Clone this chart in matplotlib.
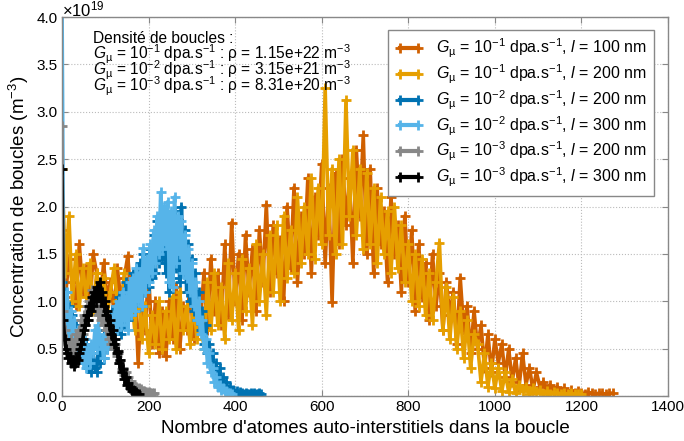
import numpy as np
import matplotlib
matplotlib.use("Agg")
import matplotlib.pyplot as plt
from matplotlib.ticker import MultipleLocator

plt.rcParams['font.family'] = ['Liberation Sans', 'DejaVu Sans']
plt.rcParams['mathtext.fontset'] = 'custom'
plt.rcParams['mathtext.rm'] = 'Liberation Sans'
plt.rcParams['mathtext.it'] = 'Liberation Sans:italic'
plt.rcParams['mathtext.bf'] = 'Liberation Sans:bold'

# ---------------- data (concentration in 1e19 m^-3) ----------------
x_g1_l100 = np.arange(0, 1273, 8)
y_g1_l100 = [
    1.75, 1.05, 1.45, 1.2, 0.95, 1.6, 1.1, 1.35, 0.9, 1.5,
    1.3, 0.95, 1.4, 1.05, 1.2, 0.9, 1.35, 1.0, 1.25, 1.48,
    0.95, 1.2, 0.35, 1.1, 0.7, 1.3, 0.55, 1.0, 0.45, 0.9,
    0.42, 1.0, 0.6, 1.15, 0.5, 0.95, 0.7, 1.2, 0.6, 1.05,
    0.8, 1.3, 0.7, 1.45, 0.9, 1.3, 0.75, 1.6, 0.85, 1.83,
    1.0, 1.5, 0.8, 1.7, 1.1, 1.55, 0.9, 1.75, 1.2, 2.02,
    1.1, 1.8, 1.3, 1.65, 1.0, 2.0, 1.35, 2.2, 1.2, 1.9,
    1.5, 2.3, 1.3, 2.1, 1.7, 2.45, 1.4, 2.2, 0.99, 2.35,
    1.6, 2.5, 1.8, 2.3, 1.4, 2.6, 1.9, 2.75, 1.5, 2.4,
    1.3, 2.2, 1.6, 1.95, 1.2, 2.1, 1.5, 1.8, 1.1, 1.9,
    1.2, 1.75, 0.9, 1.6, 1.05, 1.4, 0.8, 1.5, 0.95, 1.3,
    0.7, 1.2, 0.85, 1.1, 0.55, 1.25, 0.7, 0.95, 0.45, 0.9,
    0.5, 0.75, 0.3, 0.65, 0.25, 0.6, 0.35, 0.55, 0.2, 0.5,
    0.15, 0.4, 0.1, 0.45, 0.12, 0.3, 0.06, 0.25, 0.1, 0.15,
    0.05, 0.12, 0.03, 0.1, 0.04, 0.08, 0.02, 0.06, 0.03, 0.05,
    0.03, 0.02, 0.04, 0.03, 0.02, 0.03, 0.03, 0.02, 0.03, 0.03,
]

x_g1_l200 = np.arange(0, 1201, 8)
y_g1_l200 = [
    2.4, 1.3, 1.9, 1.0, 1.5, 0.95, 1.35, 1.05, 1.4, 0.9,
    1.3, 0.95, 1.25, 0.85, 1.1, 1.35, 1.0, 0.8, 1.3, 0.95,
    1.1, 0.7, 1.2, 0.6, 0.95, 0.45, 0.85, 0.55, 1.0, 0.5,
    0.9, 0.6, 1.05, 0.5, 1.1, 0.7, 0.95, 0.55, 1.0, 0.6,
    0.85, 0.5, 1.2, 0.7, 1.3, 0.75, 1.15, 0.6, 1.4, 0.8,
    1.3, 0.7, 1.45, 0.9, 1.35, 0.75, 1.6, 1.0, 1.5, 0.85,
    1.7, 1.1, 1.8, 1.0, 1.9, 1.25, 1.75, 1.3, 2.1, 1.4,
    2.0, 1.5, 2.3, 1.45, 2.2, 1.6, 3.25, 1.7, 2.4, 1.5,
    2.5, 1.6, 3.12, 1.9, 2.6, 1.7, 2.4, 1.55, 2.35, 1.6,
    2.2, 1.4, 2.1, 1.5, 1.95, 1.3, 2.0, 1.35, 1.8, 1.2,
    1.6, 1.0, 1.5, 0.95, 1.45, 0.85, 1.3, 0.8, 1.2, 1.62,
    0.7, 1.15, 0.6, 1.05, 0.5, 0.9, 0.4, 0.8, 0.3, 0.65,
    0.55, 0.15, 0.45, 0.1, 0.35, 0.08, 0.3, 0.05, 0.25, 0.04,
    0.18, 0.03, 0.12, 0.05, 0.1, 0.02, 0.08, 0.03, 0.06, 0.02,
    0.05, 0.02, 0.04, 0.03, 0.02, 0.03, 0.02, 0.03, 0.02, 0.02,
    0.02,
]

x_g2_l200 = np.arange(0, 461, 4)
y_g2_l200 = [
    1.2, 0.8, 1.1, 0.7, 0.95, 0.6, 0.85, 0.5, 0.75, 0.45,
    0.7, 0.4, 0.6, 0.35, 0.55, 0.3, 0.5, 0.25, 0.45, 0.3,
    0.25, 0.5, 0.35, 0.6, 0.4, 0.7, 0.5, 0.8, 0.55, 0.9,
    0.6, 0.95, 0.7, 1.05, 0.65, 1.1, 0.75, 1.2, 0.8, 1.15,
    0.85, 1.3, 0.9, 1.2, 1.0, 1.4, 0.95, 1.5, 1.1, 1.45,
    1.15, 1.55, 1.25, 1.7, 1.3, 1.85, 1.4, 1.75, 1.45, 1.9,
    1.3, 1.8, 1.1, 1.85, 1.25, 1.95, 1.35, 1.86, 1.2, 2.0,
    1.3, 1.75, 1.1, 1.6, 1.0, 1.45, 0.9, 1.3, 0.8, 1.1,
    0.7, 0.9, 0.55, 0.75, 0.45, 0.55, 0.35, 0.45, 0.25, 0.35,
    0.15, 0.3, 0.1, 0.2, 0.08, 0.15, 0.05, 0.1, 0.04, 0.06,
    0.03, 0.05, 0.02, 0.04, 0.03, 0.02, 0.03, 0.02, 0.02, 0.03,
    0.02, 0.03, 0.02, 0.02, 0.03, 0.02,
]

x_g2_l300 = np.arange(0, 393, 4)
y_g2_l300 = [
    4.2, 1.0, 0.7, 1.1, 0.6, 0.9, 0.5, 0.8, 0.45, 0.7,
    0.4, 0.65, 0.35, 0.6, 0.3, 0.5, 0.35, 0.55, 0.45, 0.7,
    0.5, 0.75, 0.55, 0.6, 0.4, 0.65, 0.5, 0.7, 0.55, 0.85,
    0.6, 0.95, 0.7, 1.0, 0.75, 1.1, 0.8, 1.05, 0.7, 1.2,
    0.85, 1.25, 0.9, 1.35, 1.0, 1.3, 0.95, 1.56, 1.1, 1.45,
    1.2, 1.6, 1.3, 1.75, 1.4, 1.9, 1.5, 2.15, 1.55, 2.0,
    1.6, 2.05, 1.2, 1.95, 1.15, 2.1, 1.4, 1.9, 1.5, 1.85,
    1.3, 1.7, 1.25, 1.55, 1.1, 1.4, 0.95, 1.2, 0.8, 1.0,
    0.65, 0.8, 0.5, 0.6, 0.35, 0.45, 0.25, 0.3, 0.15, 0.2,
    0.1, 0.12, 0.06, 0.08, 0.04, 0.05, 0.03, 0.03, 0.02,
]

x_g3_l200 = np.arange(0, 214, 3)
y_g3_l200 = [
    2.85, 0.9, 0.7, 0.6, 0.5, 0.55, 0.45, 0.6, 0.5, 0.55,
    0.45, 0.65, 0.55, 0.7, 0.6, 0.8, 0.65, 0.85, 0.75, 0.95,
    0.8, 1.0, 0.9, 1.12, 0.95, 1.05, 0.9, 1.1, 0.85, 1.0,
    0.8, 0.95, 0.75, 0.85, 0.7, 0.8, 0.6, 0.7, 0.55, 0.6,
    0.5, 0.55, 0.42, 0.45, 0.35, 0.38, 0.28, 0.3, 0.22, 0.25,
    0.18, 0.2, 0.14, 0.16, 0.11, 0.12, 0.09, 0.1, 0.07, 0.08,
    0.06, 0.07, 0.05, 0.05, 0.04, 0.04, 0.03, 0.04, 0.03, 0.03,
    0.02, 0.03,
]

x_g3_l300 = np.arange(0, 178, 3)
y_g3_l300 = [
    2.4, 0.8, 0.6, 0.5, 0.45, 0.4, 0.42, 0.35, 0.38, 0.32,
    0.35, 0.4, 0.38, 0.45, 0.5, 0.55, 0.6, 0.7, 0.75, 0.85,
    0.8, 0.95, 0.9, 1.05, 0.95, 1.1, 1.0, 1.15, 1.05, 1.2,
    1.0, 1.1, 0.95, 1.0, 0.85, 0.9, 0.75, 0.8, 0.65, 0.7,
    0.55, 0.6, 0.45, 0.48, 0.35, 0.38, 0.25, 0.28, 0.18, 0.2,
    0.12, 0.14, 0.08, 0.1, 0.05, 0.06, 0.03, 0.04, 0.02, 0.02,
]

series = [
    (x_g1_l100, y_g1_l100, '#D06000', r'$G_{\mathrm{µ}}$ = 10$^{-1}$ dpa.s$^{-1}$, $l$ = 100 nm'),
    (x_g1_l200, y_g1_l200, '#E69F00', r'$G_{\mathrm{µ}}$ = 10$^{-1}$ dpa.s$^{-1}$, $l$ = 200 nm'),
    (x_g2_l200, y_g2_l200, '#0072B2', r'$G_{\mathrm{µ}}$ = 10$^{-2}$ dpa.s$^{-1}$, $l$ = 200 nm'),
    (x_g2_l300, y_g2_l300, '#56B4E9', r'$G_{\mathrm{µ}}$ = 10$^{-2}$ dpa.s$^{-1}$, $l$ = 300 nm'),
    (x_g3_l200, y_g3_l200, '#888888', r'$G_{\mathrm{µ}}$ = 10$^{-3}$ dpa.s$^{-1}$, $l$ = 200 nm'),
    (x_g3_l300, y_g3_l300, '#000000', r'$G_{\mathrm{µ}}$ = 10$^{-3}$ dpa.s$^{-1}$, $l$ = 300 nm'),
]

density_lines = [
    'Densité de boucles :',
    r'$G_{\mathrm{µ}}$ = 10$^{-1}$ dpa.s$^{-1}$ : ρ = 1.15e+22 m$^{-3}$',
    r'$G_{\mathrm{µ}}$ = 10$^{-2}$ dpa.s$^{-1}$ : ρ = 3.15e+21 m$^{-3}$',
    r'$G_{\mathrm{µ}}$ = 10$^{-3}$ dpa.s$^{-1}$ : ρ = 8.31e+20 m$^{-3}$',
]

y_tick_values = [0.0, 0.5, 1.0, 1.5, 2.0, 2.5, 3.0, 3.5, 4.0]

# ---------------- figure ----------------
fig = plt.figure(figsize=(6.84, 4.41), dpi=100)
ax = fig.add_axes([62/684, 45/441, 606/684, 379/441])

for xs, ys, col, lab in series:
    ax.plot(xs, np.array(ys) * 1e19, '-', color=col, lw=2.6, marker='+',
            ms=7, mew=2.0, label=lab)

ax.set_xlim(0, 1400)
ax.set_ylim(0, 4e19)
ax.xaxis.set_major_locator(MultipleLocator(200))
ax.set_yticks(np.array(y_tick_values) * 1e19)
ax.set_yticklabels(['%.1f' % v for v in y_tick_values])
fig.text(62/684, 1 - 16/441, r'$\times10^{19}$', fontsize=12, va='baseline', ha='left')

ax.tick_params(direction='in', top=True, right=True, labelsize=11,
               length=4, color='#888888', pad=3)
ax.grid(True, linestyle=':', color='#bbbbbb', lw=0.8)
for s in ax.spines.values():
    s.set_color('#888888')
    s.set_linewidth(1.0)

ax.set_xlabel("Nombre d'atomes auto-interstitiels dans la boucle", fontsize=13.5, labelpad=4)
ax.set_ylabel(r'Concentration de boucles (m$^{-3}$)', fontsize=13.5, labelpad=4)

base_px = [42.7, 58.8, 75.3, 91.7]
for txt, ypx in zip(density_lines, base_px):
    ax.text((93 - 62) / 606, (396 - ypx) / 379, txt, transform=ax.transAxes,
            fontsize=11.2, va='baseline', ha='left')

leg = ax.legend(loc='upper left', bbox_to_anchor=((388 - 62) / 606, (396 - 30) / 379),
                fontsize=11.5, numpoints=2, handlelength=1.75, fancybox=False,
                framealpha=1, edgecolor='#888888', borderaxespad=0,
                labelspacing=0.15, handletextpad=0.8, borderpad=0.45)
leg.get_frame().set_linewidth(1.0)
for h in leg.legend_handles:
    h.set_linewidth(3.0)

fig.savefig('out.png', dpi=100)
